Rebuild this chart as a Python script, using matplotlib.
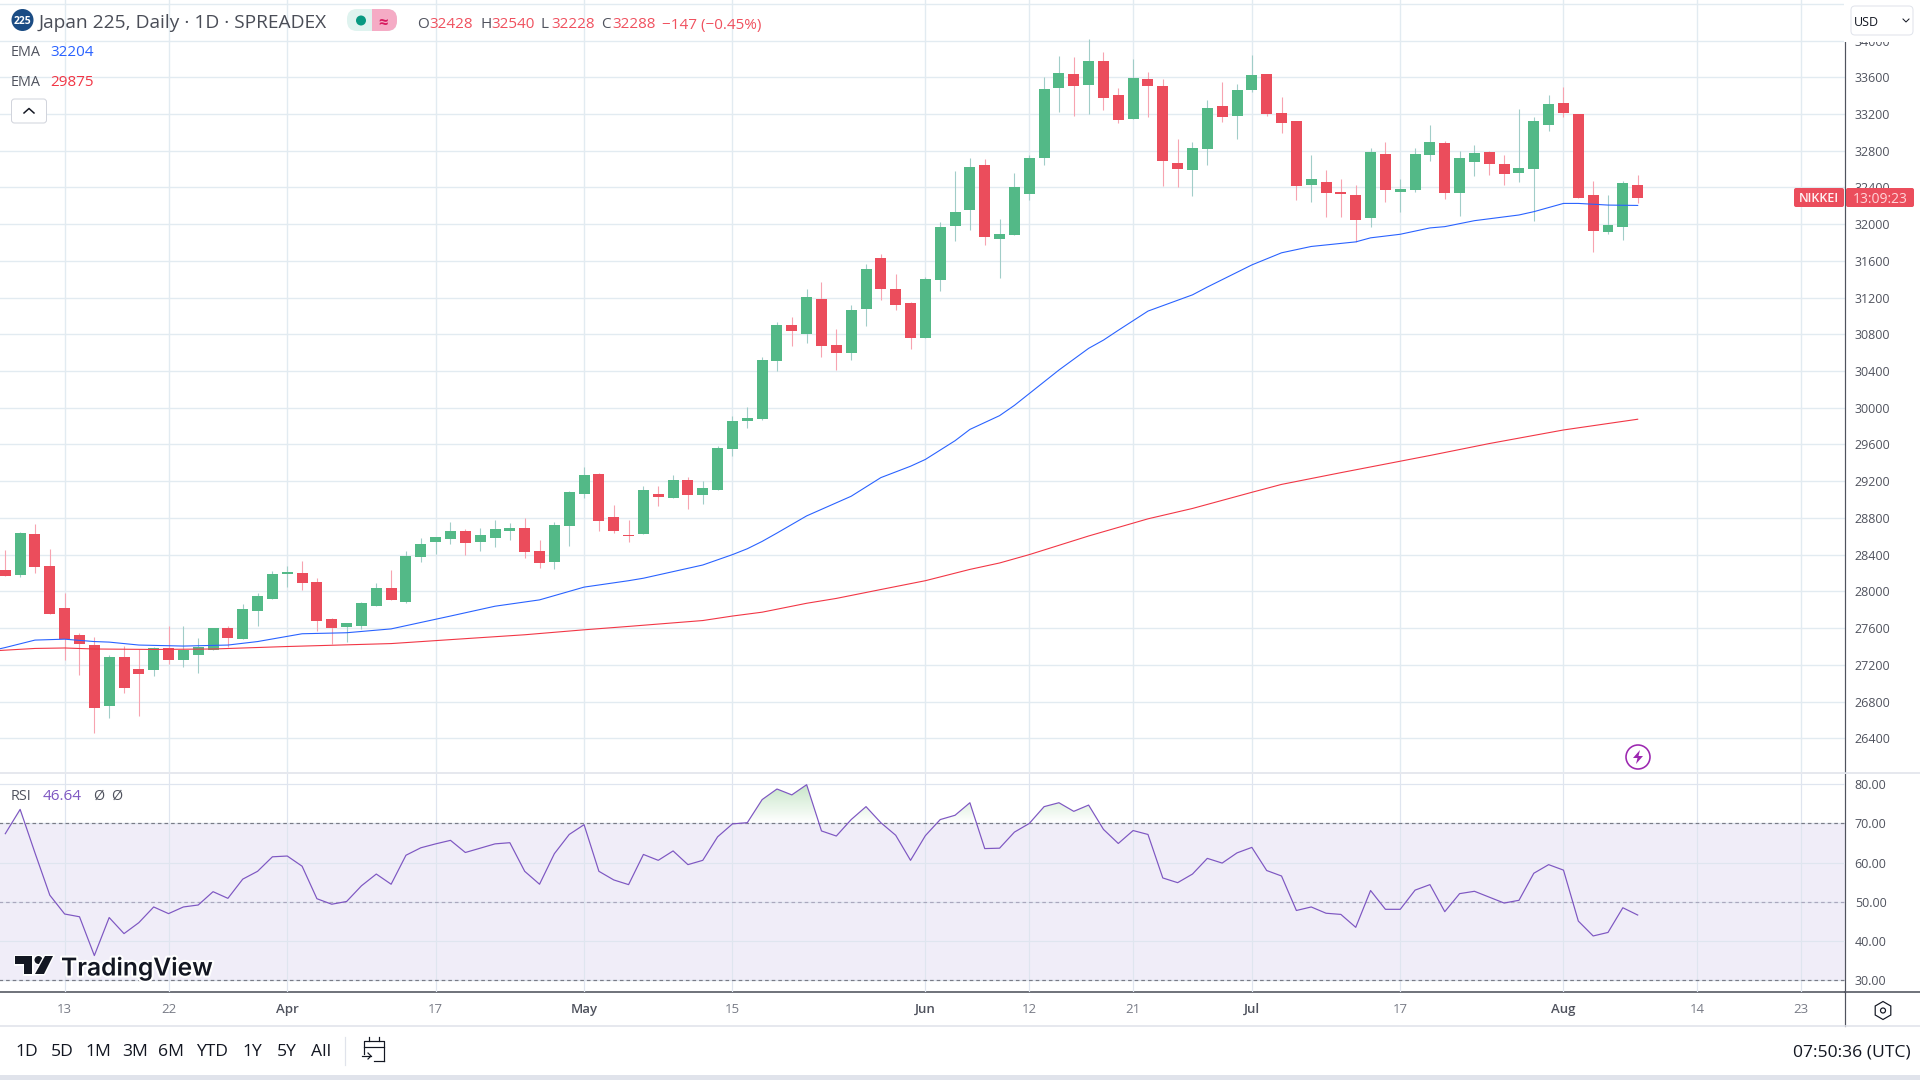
import numpy as np
import matplotlib
matplotlib.use('Agg')
import matplotlib.pyplot as plt
from matplotlib.patches import Circle, FancyBboxPatch, Polygon, Rectangle, RegularPolygon
import matplotlib.patheffects as pe

plt.rcParams['font.family'] = ['Open Sans', 'DejaVu Sans']

# Japan 225 daily candles
opens = [28234, 28180, 28630, 28276, 27822, 27528, 27420, 26752, 27287, 27158, 27148, 27383, 27255, 27308, 27362, 27602,
         27485, 27790, 27918, 28191, 28202, 28105, 27699, 27613, 27624, 27843, 28041, 27886, 28378, 28539, 28571, 28662,
         28539, 28581, 28662, 28694, 28442, 28325, 28715, 29063, 29282, 28811, 28619, 28630, 29063, 29020, 29218, 29052,
         29106, 29555, 29860, 29881, 30513, 30903, 30807, 31187, 30684, 30598, 31080, 31626, 31294, 31144, 30764, 31395,
         31984, 32155, 32647, 31840, 31882, 32332, 32722, 33487, 33637, 33519, 33782, 33402, 33150, 33584, 33509, 32669,
         32594, 32824, 33289, 33182, 33466, 33637, 33214, 33128, 32424, 32457, 32349, 32316, 32067, 32760, 32349, 32370,
         32749, 32879, 32338, 32673, 32781, 32652, 32554, 32597, 33084, 33322, 33203, 32316, 31916, 31970, 32428]
highs = [28453, 28651, 28737, 28464, 27982, 27543, 27501, 27308, 27410, 27372, 27394, 27624, 27624, 27495, 27602, 27624,
         27859, 27982, 28223, 28276, 28335, 28148, 27715, 27656, 27886, 28095, 28234, 28442, 28581, 28592, 28758, 28683,
         28694, 28779, 28747, 28801, 28560, 28758, 29095, 29357, 29293, 28945, 28779, 29148, 29148, 29272, 29250, 29197,
         29587, 29914, 30005, 30556, 30935, 30989, 31294, 31374, 30860, 31123, 31567, 31679, 31460, 31155, 31428, 32027,
         32583, 32722, 32712, 32059, 32562, 32754, 33605, 33835, 33824, 34022, 33878, 33487, 33803, 33659, 33584, 32931,
         32899, 33354, 33552, 33530, 33846, 33637, 33387, 33128, 32749, 32587, 32489, 32424, 32835, 32900, 32489, 32835,
         33084, 32911, 32792, 32857, 32792, 32749, 33257, 33171, 33409, 33496, 33203, 32468, 32316, 32468, 32540]
lows = [28169, 28159, 28202, 27758, 27255, 27089, 26457, 26623, 26896, 26645, 27078, 27212, 27180, 27115, 27362, 27399,
        27485, 27624, 27918, 28052, 28020, 27570, 27431, 27453, 27592, 27843, 27907, 27870, 28325, 28410, 28517, 28400,
        28442, 28485, 28560, 28367, 28255, 28244, 28496, 29020, 28662, 28640, 28539, 28630, 28935, 29020, 28902, 28956,
        29106, 29475, 29780, 29870, 30395, 30673, 30700, 30556, 30416, 30523, 30893, 31176, 31069, 30641, 30764, 31272,
        31818, 31941, 31775, 31417, 31882, 32268, 32647, 33225, 33182, 33204, 33247, 33097, 33150, 33172, 32417, 32407,
        32310, 32647, 33118, 32931, 33445, 33182, 32998, 32262, 32240, 32078, 32078, 31807, 31970, 32240, 32132, 32349,
        32684, 32273, 32089, 32522, 32533, 32424, 32457, 32035, 33019, 33171, 32284, 31699, 31894, 31829, 32228]
closes = [28169, 28640, 28266, 27758, 27479, 27431, 26730, 27287, 26950, 27099, 27383, 27255, 27362, 27399, 27602, 27495,
          27811, 27950, 28191, 28212, 28095, 27677, 27602, 27656, 27875, 28041, 27907, 28389, 28517, 28592, 28662, 28528,
          28614, 28683, 28694, 28432, 28314, 28726, 29084, 29272, 28769, 28662, 28608, 29106, 29031, 29218, 29052, 29127,
          29566, 29860, 29892, 30523, 30903, 30839, 31208, 30673, 30598, 31069, 31513, 31294, 31123, 30764, 31406, 31973,
          32134, 32626, 31861, 31893, 32407, 32722, 33477, 33648, 33509, 33782, 33375, 33140, 33594, 33509, 32690, 32605,
          32835, 33268, 33172, 33466, 33626, 33204, 33106, 32413, 32489, 32341, 32327, 32046, 32781, 32370, 32381, 32760,
          32890, 32341, 32716, 32771, 32652, 32543, 32608, 33128, 33312, 33214, 32284, 31927, 31991, 32446, 32288]

rsi = [67.4, 73.6, 62.5, 51.7, 46.9, 46.2, 36.3, 46.0, 41.9, 44.7, 48.7, 47.0, 48.7, 49.2, 52.6, 50.9, 55.8, 57.8, 61.5,
       61.7, 59.1, 50.8, 49.4, 50.1, 54.1, 57.1, 54.5, 61.9, 63.8, 64.8, 65.7, 62.6, 63.7, 64.8, 65.1, 57.8, 54.5, 62.3,
       67.2, 69.7, 57.8, 55.6, 54.4, 62.1, 60.6, 63.0, 59.5, 60.6, 66.6, 69.9, 70.2, 76.1, 78.8, 77.3, 79.9, 68.1, 66.8,
       71.0, 74.3, 70.2, 67.0, 60.6, 66.9, 71.0, 72.1, 75.3, 63.6, 63.7, 67.8, 70.0, 74.3, 75.3, 73.1, 74.7, 68.5, 64.9,
       68.2, 67.2, 56.1, 54.9, 57.1, 61.1, 59.9, 62.5, 63.9, 58.0, 56.6, 47.8, 48.7, 47.1, 46.8, 43.5, 52.9, 48.1, 48.1,
       53.0, 54.4, 47.5, 52.1, 52.7, 51.2, 49.7, 50.4, 57.3, 59.5, 58.1, 45.1, 41.3, 42.2, 48.5, 46.64]

# EMA lines, read at the bars where they bend
ema_blue_idx = [-1, 0, 2, 4, 6, 7, 9, 12, 15, 17, 20, 23, 26, 30, 33, 36, 39, 42, 43, 47, 49, 50, 51, 52, 54, 57, 59, 61,
                62, 64, 65, 67, 68, 71, 73, 74, 75, 77, 80, 81, 84, 86, 88, 91, 92, 94, 96, 97, 99, 102, 103, 105, 106,
                108, 110]
ema_blue = [27351, 27388, 27469, 27479, 27453, 27447, 27415, 27404, 27415, 27453, 27538, 27549, 27591, 27731, 27838,
            27907, 28046, 28116, 28143, 28287, 28400, 28464, 28544, 28635, 28822, 29036, 29239, 29363, 29437, 29641,
            29764, 29914, 30026, 30411, 30647, 30737, 30844, 31053, 31230, 31315, 31556, 31688, 31757, 31807, 31851,
            31890, 31959, 31973, 32038, 32100, 32136, 32226, 32226, 32208, 32204]
ema_red_idx = [-1, 2, 4, 6, 10, 14, 19, 26, 30, 35, 39, 42, 47, 49, 51, 54, 56, 59, 62, 65, 67, 69, 73, 77, 80, 84, 86,
               90, 96, 100, 105, 110]
ema_red = [27350, 27378, 27383, 27372, 27367, 27372, 27399, 27431, 27474, 27527, 27581, 27618, 27682, 27731, 27773,
           27870, 27923, 28020, 28116, 28239, 28309, 28400, 28603, 28790, 28903, 29079, 29165, 29293, 29480, 29610,
           29758, 29875]

price_ticks = list(range(26400, 34401, 400))
rsi_ticks = [30, 40, 50, 60, 70, 80]
time_idx = [4, 11, 19, 29, 39, 49, 62, 69, 76, 84, 94, 105, 114, 121]
time_labels = ['13', '22', 'Apr', '17', 'May', '15', 'Jun', '12', '21', 'Jul', '17', 'Aug', '14', '23']
ranges = ['1D', '5D', '1M', '3M', '6M', 'YTD', '1Y', '5Y', 'All']
range_x = [27, 62, 98, 135, 171, 212, 252, 287, 321]

UP = '#53b987'
DOWN = '#eb4d5c'
UP_WICK = '#a1cdc8'
DOWN_WICK = '#f7a3b0'
GRID = '#e2ebf1'
AXIS = '#50535e'
W, H = 1920, 1080
PX = 0.72  # one pixel in points at dpi 100


def add_axes_px(x0, y0, x1, y1):
    return fig.add_axes([x0 / W, 1 - y1 / H, (x1 - x0) / W, (y1 - y0) / H])


fig = plt.figure(figsize=(19.2, 10.8), dpi=100, facecolor='white')

# price pane
ax = add_axes_px(0, 0, 1845, 772)
ax.set_xlim(-0.357, 123.97)
ax.set_ylim(26032, 34442)
o, h, l, c = map(np.array, (opens, highs, lows, closes))
x = np.arange(len(o))
up = c >= o
ax.vlines(x, l, h, colors=np.where(up, UP_WICK, DOWN_WICK), lw=1.1 * PX, zorder=3)
ax.bar(x, np.abs(c - o), bottom=np.minimum(o, c), width=0.74, color=np.where(up, UP, DOWN), lw=0, zorder=4)
ax.plot(ema_blue_idx, ema_blue, color='#2962ff', lw=1.1 * PX, zorder=5, solid_joinstyle='round')
ax.plot(ema_red_idx, ema_red, color='#f23645', lw=1.1 * PX, zorder=5, solid_joinstyle='round')
ax.set_xticks(time_idx)
ax.set_yticks(price_ticks)
ax.set_yticklabels([str(t) for t in price_ticks])
ax.yaxis.tick_right()
ax.tick_params(axis='y', length=0, pad=7, labelsize=9, labelcolor=AXIS)
ax.tick_params(axis='x', length=0, labelbottom=False)
ax.grid(True, color=GRID, lw=1.4 * PX, zorder=0)
ax.set_axisbelow(True)
for s in ['top', 'left', 'bottom']:
    ax.spines[s].set_visible(False)
ax.spines['right'].set_color(AXIS)
ax.spines['right'].set_linewidth(1.2 * PX)

# RSI pane
ax2 = add_axes_px(0, 774, 1845, 992)
ax2.set_xlim(-0.357, 123.97)
ax2.set_ylim(27.0, 82.63)
rsi_arr = np.array(rsi)
rsi_x = np.arange(len(rsi_arr))
ax2.axhspan(30, 70, color='#f0edf8', lw=0, zorder=1)
ax2.set_xticks(time_idx)
ax2.set_xticklabels(time_labels)
ax2.set_yticks(rsi_ticks)
ax2.set_yticklabels(['%.2f' % t for t in rsi_ticks])
ax2.yaxis.tick_right()
ax2.tick_params(axis='y', length=0, pad=7, labelsize=9, labelcolor=AXIS)
ax2.tick_params(axis='x', length=0, pad=8, labelsize=9.5, labelcolor='#787b86')
for lab, t in zip(ax2.get_xticklabels(), time_labels):
    if t.isalpha():
        lab.set_color(AXIS)
        lab.set_fontweight('semibold')
ax2.grid(True, color='#dfe5ef', lw=1.2 * PX, zorder=2)
ax2.set_axisbelow(False)
ax2.hlines([70, 30], -1, 125, colors='#787b86', linestyles=(0, (3, 2.5)), lw=1.2 * PX, zorder=3)
ax2.hlines([50], -1, 125, colors='#a9a7bd', linestyles=(0, (3, 2.5)), lw=1.2 * PX, zorder=3)

# green gradient where RSI goes over 70
tops = ax2.fill_between(rsi_x, 70, rsi_arr, where=rsi_arr >= 70, interpolate=True, color='none', lw=0)
grad = np.zeros((64, 2, 4))
grad[..., :3] = (0.30, 0.69, 0.31)
grad[..., 3] = np.linspace(0.32, 0.0, 64)[:, None]
for path in tops.get_paths():
    im = ax2.imshow(grad, extent=(0, 110, 70, 80), aspect='auto', origin='upper', zorder=2.5, interpolation='bilinear')
    im.set_clip_path(path, transform=ax2.transData)
ax2.set_xlim(-0.357, 123.97)
ax2.set_ylim(27.0, 82.63)
ax2.plot(rsi_x, rsi_arr, color='#7e57c2', lw=1.2 * PX, zorder=5)
for s in ['top', 'left']:
    ax2.spines[s].set_visible(False)
ax2.spines['right'].set_color(AXIS)
ax2.spines['right'].set_linewidth(1.2 * PX)
ax2.spines['bottom'].set_color(AXIS)
ax2.spines['bottom'].set_linewidth(1.6 * PX)

# everything around the panes goes on an overlay in pixel coordinates
ui = fig.add_axes([0, 0, 1, 1], zorder=10)
ui.set_xlim(0, W)
ui.set_ylim(H, 0)
ui.axis('off')
ui.patch.set_alpha(0)


def txt(px, py, s, color='#131722', size=10, ha='left', **kw):
    return ui.text(px, py, s, color=color, fontsize=size, ha=ha, va='center_baseline', **kw)


# separators and bottom band
ui.plot([0, W], [773, 773], color='#e0e3eb', lw=1.6 * PX)
ui.plot([1845, W], [992.3, 992.3], color=AXIS, lw=1.6 * PX)
ui.plot([1845, 1845], [992, 1026], color=AXIS, lw=1.2 * PX)
ui.plot([0, W], [1026, 1026], color='#e0e3eb', lw=1.6 * PX)
ui.add_patch(Rectangle((0, 1075), W, 5, color='#e0e3eb', lw=0))

# top right: hides the top of the price scale, then the currency box
ui.add_patch(Rectangle((1844.2, 0), 76, 41.5, color='white', lw=0))
ui.add_patch(FancyBboxPatch((1851, 6), 62, 29, boxstyle='round,pad=0,rounding_size=4', fc='white', ec='#e0e3eb', lw=PX))
txt(1854, 20.5, 'USD', size=9)
ui.plot([1903, 1906, 1909], [19, 22, 19], color='#131722', lw=PX)

# countdown label
ui.add_patch(FancyBboxPatch((1794, 188), 50, 19, boxstyle='round,pad=0,rounding_size=2', fc=DOWN, ec='none'))
ui.add_patch(FancyBboxPatch((1846, 188), 68, 19, boxstyle='round,pad=0,rounding_size=2', fc=DOWN, ec='none'))
txt(1819, 197.5, 'NIKKEI', color='#fff2f3', size=9, ha='center', fontweight='semibold')
txt(1880, 197.5, '13:09:23', color='#ffd5d9', size=10, ha='center')

# legend row
ui.add_patch(Circle((22.5, 20), 11, color='#1b4c84', lw=0))
txt(22.5, 20.5, '225', color='white', size=7.5, ha='center', fontweight='bold')
txt(39, 21, 'Japan 225, Daily · 1D · SPREADEX', color='#4a4d57', size=13.75)
ui.add_patch(FancyBboxPatch((347, 9), 50, 22, boxstyle='round,pad=0,rounding_size=10', fc='#dff3ef', ec='none'))
pink = FancyBboxPatch((347, 9), 50, 22, boxstyle='round,pad=0,rounding_size=10', fc='#f5abc5', ec='none')
ui.add_patch(pink)
pink.set_clip_path(Rectangle((372, 0), 40, 40, transform=ui.transData))
ui.add_patch(Circle((361, 20.5), 5, color='#089981', lw=0))
txt(383, 20.5, '≈', color='#d81b60', size=12, ha='center', fontweight='bold')

RED_TXT = '#f0515f'
for lx, letter, vx, val in [(417, 'O', 429.5, '32428'), (480, 'H', 491, '32540'),
                            (541, 'L', 551, '32228'), (601, 'C', 612, '32288')]:
    txt(lx, 23, letter, color=AXIS, size=11)
    txt(vx, 23, val, color=RED_TXT, size=11)
txt(662, 23, '−147 (−0.45%)', color=RED_TXT, size=11)

txt(11, 51, 'EMA', color=AXIS, size=10.4)
txt(50.5, 51, '32204', color='#2962ff', size=11)
txt(11, 81, 'EMA', color=AXIS, size=10.4)
txt(50.5, 81, '29875', color='#f23645', size=11)
ui.add_patch(FancyBboxPatch((11.5, 99), 35, 24, boxstyle='round,pad=0,rounding_size=3', fc='white', ec='#d1d4dc', lw=PX))
ui.plot([24, 29, 34], [113, 108.5, 113], color='#131722', lw=1.5 * PX)

# bar replay icon
ui.add_patch(Circle((1638, 757), 12, fc='white', ec='#9c27b0', lw=1.6 * PX))
ui.add_patch(Polygon([(1640, 750), (1633, 758), (1637.5, 758), (1636, 764), (1643, 756), (1638.5, 756)], color='#9c27b0', lw=0))

# RSI legend
txt(11, 794, 'RSI', color=AXIS, size=10.4)
txt(43, 794, '46.64', color='#7e57c2', size=11)
txt(93, 794, 'Ø', color=AXIS, size=10.4)
txt(111, 794, 'Ø', color=AXIS, size=10.4)

# TradingView watermark
halo = [pe.withStroke(linewidth=3, foreground='white')]
for patch in [Polygon([(15, 956), (32, 956), (32, 974), (24, 974), (24, 964), (15, 964)], color='#131722', lw=0),
              Circle((38.5, 960), 4, color='#131722', lw=0),
              Polygon([(45, 956), (53, 956), (44, 974), (35, 974)], color='#131722', lw=0)]:
    ui.add_patch(patch)
    patch.set_path_effects([pe.withStroke(linewidth=2, foreground='white')])
txt(61, 965.5, 'TradingView', color='#131722', size=17.7, fontfamily='Inter', fontweight='semibold', path_effects=halo)

# settings icon on the time scale
ui.add_patch(RegularPolygon((1883, 1010.5), 6, radius=9, fc='white', ec='#131722', lw=1.2 * PX))
ui.add_patch(Circle((1883, 1010.5), 2.5, fc='white', ec='#131722', lw=1.2 * PX))

# bottom toolbar
for rx, r in zip(range_x, ranges):
    txt(rx, 1050.5, r, size=12.6, ha='center')
ui.plot([345, 345], [1037, 1065], color='#e0e3eb', lw=1.2 * PX)
ui.plot([364, 364, 384, 384], [1054, 1041, 1041, 1061], color='#131722', lw=1.2 * PX)
ui.plot([364, 384], [1047, 1047], color='#131722', lw=1.2 * PX)
ui.plot([384, 374], [1061, 1061], color='#131722', lw=1.2 * PX)
ui.plot([369, 369], [1037, 1041], color='#131722', lw=1.2 * PX)
ui.plot([379, 379], [1037, 1041], color='#131722', lw=1.2 * PX)
ui.plot([362, 371], [1056, 1056], color='#131722', lw=1.2 * PX)
ui.plot([368, 371, 368], [1053, 1056, 1059], color='#131722', lw=1.2 * PX)
txt(1911, 1050.5, '07:50:36 (UTC)', size=12.6, ha='right')

fig.savefig('out.png', dpi=100, facecolor='white')
